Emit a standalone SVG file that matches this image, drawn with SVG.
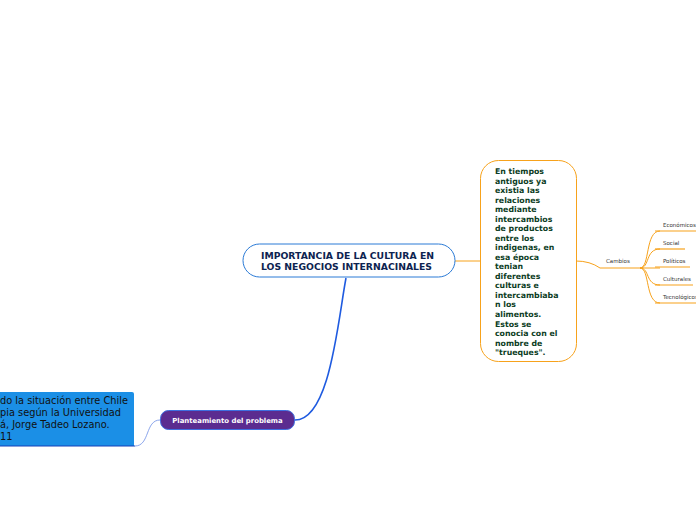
<svg xmlns="http://www.w3.org/2000/svg" width="696" height="520" viewBox="0 0 696 520">
<style>
.org{stroke:#f7a21b;stroke-width:1;fill:none}
.lbl{font-family:"DejaVu Sans",Verdana,sans-serif;font-size:5.5px;fill:#333}
.und{stroke:#f7a21b;stroke-width:1.2}
</style>
<rect width="696" height="520" fill="#fff"/>
<g id="connectors" fill="none">
<path d="M455,261 H480" class="org"/>
<path d="M576,261 Q590,261 600,268" class="org"/>
<path d="M640,268 C650,268 645,231 660,231" class="org"/>
<path d="M640,268 C650,268 645,249 660,249" class="org"/>
<path d="M640,268 H660" class="org"/>
<path d="M640,268 C650,268 645,285 660,285" class="org"/>
<path d="M640,268 C650,268 645,303 660,303" class="org"/>
<path d="M346,278 C338,320 330,420 295,420" stroke="#1f5be0" stroke-width="1.6"/>
<path d="M160,420 C145,420 150,446 135,446" stroke="#6e8fe6" stroke-width="0.8"/>
</g>
<g id="central">
<rect x="243" y="244" width="212" height="33" rx="16.5" fill="#fff" stroke="#2a7ad6" stroke-width="1"/>
<text font-family="'DejaVu Sans',Verdana,sans-serif" font-weight="bold" font-size="8.6" fill="#0d2350"><tspan x="261" y="259" textLength="173" lengthAdjust="spacingAndGlyphs">IMPORTANCIA DE LA CULTURA EN</tspan><tspan x="261" y="270" textLength="171" lengthAdjust="spacingAndGlyphs">LOS NEGOCIOS INTERNACINALES</tspan></text>
</g>
<g id="tiempos">
<rect x="480.5" y="160.5" width="96" height="201" rx="18" fill="#fff" stroke="#f7a21b" stroke-width="1"/>
<text font-family="'DejaVu Sans',Verdana,sans-serif" font-weight="bold" font-size="7.8" fill="#0c3d24">
<tspan x="495" y="174">En tiempos</tspan>
<tspan x="495" y="183.5">antiguos ya</tspan>
<tspan x="495" y="193.1">existia las</tspan>
<tspan x="495" y="202.6">relaciones</tspan>
<tspan x="495" y="212.1">mediante</tspan>
<tspan x="495" y="221.7">intercambios</tspan>
<tspan x="495" y="231.2">de productos</tspan>
<tspan x="495" y="240.7">entre los</tspan>
<tspan x="495" y="250.2">indigenas, en</tspan>
<tspan x="495" y="259.8">esa época</tspan>
<tspan x="495" y="269.3">tenian</tspan>
<tspan x="495" y="278.8">diferentes</tspan>
<tspan x="495" y="288.4">culturas e</tspan>
<tspan x="495" y="297.9">intercambiaba</tspan>
<tspan x="495" y="307.4">n los</tspan>
<tspan x="495" y="316.9">alimentos.</tspan>
<tspan x="495" y="326.5">Estos se</tspan>
<tspan x="495" y="336">conocia con el</tspan>
<tspan x="495" y="345.5">nombre de</tspan>
<tspan x="495" y="355.1">"trueques".</tspan>
</text>
</g>
<g id="cambios">
<line x1="600" y1="268" x2="640" y2="268" class="und"/>
<text x="606" y="263" class="lbl">Cambios</text>
</g>
<g id="economicos">
<line x1="655" y1="231" x2="696" y2="231" class="und"/>
<text x="663" y="227" class="lbl">Económicos</text>
</g>
<g id="social">
<line x1="655" y1="249" x2="685" y2="249" class="und"/>
<text x="663" y="245" class="lbl">Social</text>
</g>
<g id="politicos">
<line x1="655" y1="267" x2="690" y2="267" class="und"/>
<text x="663" y="263" class="lbl">Políticos</text>
</g>
<g id="culturales">
<line x1="655" y1="285" x2="693" y2="285" class="und"/>
<text x="663" y="281" class="lbl">Culturales</text>
</g>
<g id="tecnologicos">
<line x1="655" y1="303" x2="696" y2="303" class="und"/>
<text x="663" y="299" class="lbl">Tecnológicos</text>
</g>
<g id="planteamiento">
<rect x="160.5" y="410.5" width="134" height="19" rx="8" fill="#5b2c90" stroke="#3f6fe0" stroke-width="1"/>
<text x="227.5" y="422.5" text-anchor="middle" font-family="'DejaVu Sans',Verdana,sans-serif" font-weight="bold" font-size="6.9" fill="#fff">Planteamiento del problema</text>
</g>
<g id="situacion">
<path d="M-5,392 H132 Q134,392 134,394 V446 H-5 Z" fill="#1b8fe6"/>
<line x1="-5" y1="446" x2="135" y2="446" stroke="#1440b8" stroke-width="1.2"/>
<text font-family="'DejaVu Sans',Verdana,sans-serif" font-size="9.8" fill="#111"><tspan x="0" y="404">do la situación entre Chile</tspan><tspan x="0" y="416">pia según la Universidad</tspan><tspan x="0" y="428">á, Jorge Tadeo Lozano.</tspan><tspan x="0" y="440">11</tspan></text>
</g>
</svg>
